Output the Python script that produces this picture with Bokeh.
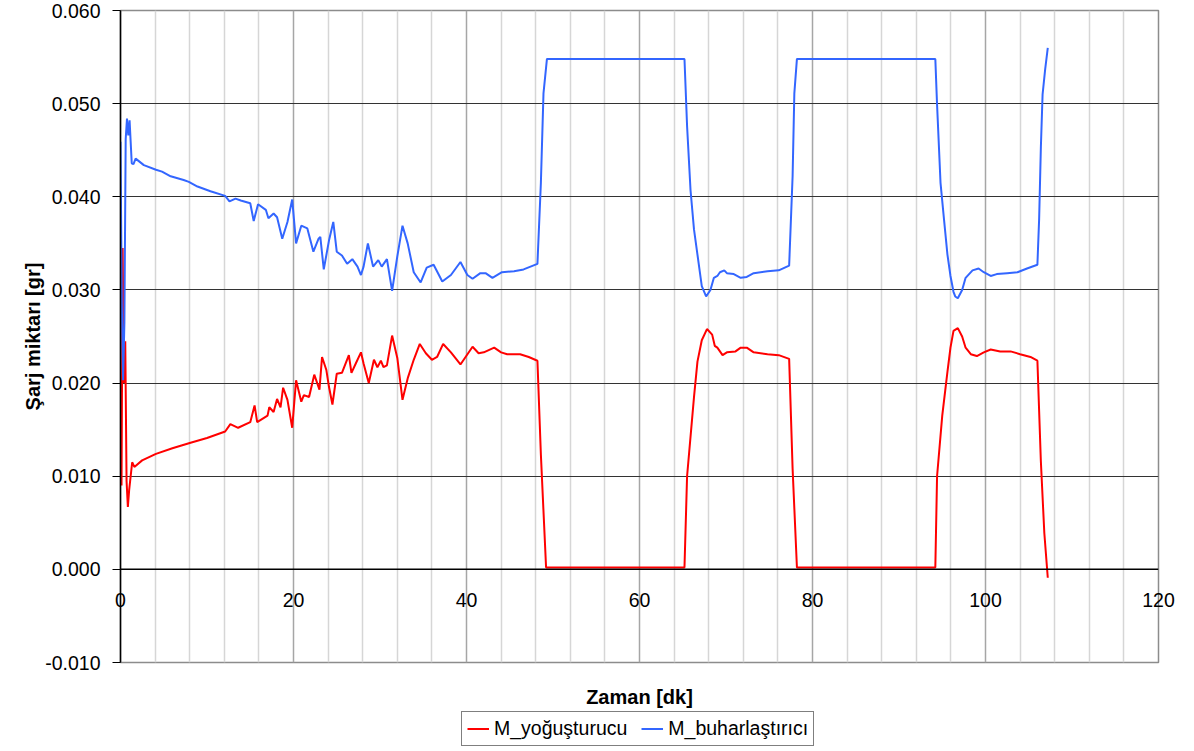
from bokeh.plotting import figure
from bokeh.layouts import column
from bokeh.models import (FixedTicker, NumeralTickFormatter, Span,
                          Legend, LegendItem, Range1d)
from bokeh.embed import file_html
from bokeh.resources import INLINE

FONT = "Liberation Sans"

# ---- data ----
x_title = "Zaman [dk]"
y_title = "Şarj miktarı [gr]"
series_names = ["M_yoğuşturucu", "M_buharlaştırıcı"]

t_buh = [0.0, 0.15, 0.3, 0.45, 0.6, 0.75, 0.9, 1.05, 1.3, 1.5, 1.75, 2.7, 4.1, 4.8,
         5.8, 7.3, 7.9, 8.9, 10.4, 12.1, 12.6, 13.3, 13.9, 15.0, 15.4, 15.9, 16.8,
         17.1, 17.7, 18.1, 18.7, 19.3, 19.85, 20.3, 20.9, 21.6, 22.3, 22.9, 23.1,
         23.5, 24.1, 24.6, 25.0, 25.6, 26.2, 26.8, 27.4, 27.8, 28.1, 28.6, 29.2,
         29.8, 30.2, 30.8, 31.4, 32.0, 32.6, 33.2, 33.9, 34.7, 35.4, 36.2, 37.2,
         38.2, 39.3, 40.1, 40.7, 41.6, 42.2, 43.0, 44.1, 45.5, 46.6, 48.2, 48.6,
         48.9, 49.3, 65.2, 65.5, 65.9, 66.3, 66.7, 67.2, 67.7, 68.2, 68.6, 69.0,
         69.3, 69.8, 70.1, 70.9, 71.7, 72.4, 73.2, 74.8, 76.1, 77.3, 77.7, 77.9,
         78.2, 94.2, 94.4, 94.8, 95.2, 95.6, 95.95, 96.3, 96.5, 96.8, 97.3, 97.7,
         98.1, 98.5, 99.2, 99.8, 100.6, 101.3, 102.5, 103.7, 104.8, 106.0, 106.2,
         106.4, 106.6, 106.9, 107.2]
m_buh = [0.0459, 0.0285, 0.0203, 0.0265, 0.0462, 0.0484, 0.0466, 0.0482, 0.0436,
         0.0435, 0.0441, 0.0434, 0.0429, 0.0427, 0.0422, 0.0418, 0.0416, 0.0411,
         0.0406, 0.0401, 0.0395, 0.0398, 0.0396, 0.0393, 0.0374, 0.0392, 0.0386,
         0.0377, 0.0382, 0.0378, 0.0355, 0.0373, 0.0397, 0.0350, 0.0369, 0.0366,
         0.0341, 0.0355, 0.0357, 0.0322, 0.0353, 0.0373, 0.0341, 0.0337, 0.0328,
         0.0333, 0.0325, 0.0316, 0.0325, 0.0350, 0.0325, 0.0332, 0.0325, 0.0333,
         0.0299, 0.0336, 0.0369, 0.0350, 0.0319, 0.0308, 0.0324, 0.0327, 0.0309,
         0.0316, 0.0330, 0.0316, 0.0312, 0.0318, 0.0318, 0.0313, 0.0319, 0.0320,
         0.0322, 0.0328, 0.0415, 0.0511, 0.0548, 0.0548, 0.0476, 0.0407, 0.0365,
         0.0338, 0.0304, 0.0293, 0.0300, 0.0313, 0.0315, 0.0319, 0.0321, 0.0318,
         0.0317, 0.0313, 0.0314, 0.0318, 0.0320, 0.0321, 0.0326, 0.0422, 0.0511,
         0.0548, 0.0548, 0.0499, 0.0415, 0.0376, 0.0338, 0.0315, 0.0298, 0.0293,
         0.0291, 0.0300, 0.0313, 0.0317, 0.0321, 0.0323, 0.0319, 0.0315, 0.0317,
         0.0318, 0.0319, 0.0323, 0.0327, 0.0376, 0.0453, 0.0510, 0.0537, 0.0560]

t_yog = [0.0, 0.12, 0.25, 0.4, 0.55, 0.7, 0.85, 1.0, 1.35, 1.6, 2.5, 4.1, 6.0, 8.1,
         10.0, 12.1, 12.7, 13.6, 15.0, 15.5, 15.8, 17.0, 17.2, 17.7, 18.1, 18.5,
         18.8, 19.3, 19.85, 20.3, 20.9, 21.2, 21.8, 22.4, 23.0, 23.3, 23.8, 24.1,
         24.5, 25.0, 25.6, 26.4, 26.7, 27.2, 27.8, 28.1, 28.7, 29.3, 29.7, 30.1,
         30.4, 30.8, 31.4, 32.0, 32.6, 33.2, 33.9, 34.6, 35.3, 36.0, 36.6, 37.3,
         38.2, 39.3, 40.7, 41.4, 42.0, 43.2, 44.0, 44.7, 46.2, 47.2, 48.2, 48.6,
         49.2, 65.2, 65.5, 66.3, 66.7, 67.2, 67.8, 68.4, 68.7, 69.0, 69.6, 70.1,
         71.1, 71.7, 72.4, 73.2, 74.8, 76.1, 77.3, 77.7, 78.2, 94.2, 94.4, 95.0,
         95.6, 95.95, 96.3, 96.8, 97.3, 97.7, 98.3, 99.0, 99.8, 100.6, 101.7,
         102.9, 104.0, 105.2, 106.0, 106.4, 106.8, 107.2]
m_yog = [0.0175, 0.0090, 0.0345, 0.0200, 0.0245, 0.0095, 0.0067, 0.0085, 0.0115,
         0.0110, 0.0117, 0.0124, 0.0130, 0.0136, 0.0141, 0.0148, 0.0156, 0.0152,
         0.0158, 0.0176, 0.0158, 0.0165, 0.0174, 0.0169, 0.0183, 0.0174, 0.0195,
         0.0182, 0.0152, 0.0203, 0.0180, 0.0187, 0.0185, 0.0209, 0.0193, 0.0228,
         0.0214, 0.0196, 0.0177, 0.0210, 0.0211, 0.0230, 0.0211, 0.0221, 0.0233,
         0.0221, 0.0200, 0.0225, 0.0217, 0.0224, 0.0217, 0.0219, 0.0251, 0.0227,
         0.0182, 0.0205, 0.0225, 0.0242, 0.0232, 0.0225, 0.0228, 0.0242, 0.0233,
         0.0220, 0.0239, 0.0232, 0.0233, 0.0238, 0.0233, 0.0231, 0.0231, 0.0228,
         0.0224, 0.0123, 0.0002, 0.0002, 0.0100, 0.0185, 0.0223, 0.0246, 0.0258,
         0.0252, 0.0240, 0.0238, 0.0230, 0.0233, 0.0234, 0.0238, 0.0238, 0.0233,
         0.0231, 0.0230, 0.0226, 0.0108, 0.0002, 0.0002, 0.0100, 0.0165, 0.0212,
         0.0238, 0.0256, 0.0259, 0.0250, 0.0238, 0.0231, 0.0229, 0.0233, 0.0236,
         0.0234, 0.0234, 0.0231, 0.0228, 0.0224, 0.0116, 0.0039, -0.0009]

x_ticks = [0, 20, 40, 60, 80, 100, 120]
x_minor = [4, 8, 12, 16, 24, 28, 32, 36, 44, 48, 52, 56, 64, 68, 72, 76,
           84, 88, 92, 96, 104, 108, 112, 116]
y_ticks = [-0.01, 0.0, 0.01, 0.02, 0.03, 0.04, 0.05, 0.06]

# ---- main figure ----
p = figure(width=1186, height=710,
           x_range=Range1d(0, 120), y_range=Range1d(-0.01, 0.06),
           output_backend="svg", toolbar_location=None,
           min_border_left=120, min_border_right=28,
           min_border_top=10, min_border_bottom=48,
           background_fill_color="white", border_fill_color="white")
p.outline_line_color = "#8c8c8c"
p.outline_line_width = 1.5

# bottom axis: carries tick labels (drawn up below the y=0 line) and the title
xa = p.xaxis[0]
xa.ticker = FixedTicker(ticks=x_ticks, minor_ticks=x_minor)
xa.axis_line_color = None
xa.major_tick_line_color = None
xa.minor_tick_line_color = None
xa.major_tick_out = 0
xa.major_tick_in = 0
xa.minor_tick_out = 0
xa.major_label_standoff = -70
xa.major_label_text_font = FONT
xa.major_label_text_font_size = "19.5px"
xa.major_label_text_color = "black"
xa.axis_label = x_title
xa.axis_label_standoff = 76
xa.axis_label_text_font = FONT
xa.axis_label_text_font_size = "20px"
xa.axis_label_text_font_style = "bold"
xa.axis_label_text_color = "black"

# y axis
ya = p.yaxis[0]
ya.ticker = FixedTicker(ticks=y_ticks)
ya.formatter = NumeralTickFormatter(format="0.000")
ya.axis_line_color = "black"
ya.axis_line_width = 1.5
ya.major_tick_line_color = "black"
ya.major_tick_out = 8
ya.major_tick_in = 0
ya.minor_tick_line_color = None
ya.major_label_standoff = 12
ya.major_label_text_font = FONT
ya.major_label_text_font_size = "19.5px"
ya.major_label_text_color = "black"
ya.axis_label = y_title
ya.axis_label_text_font = FONT
ya.axis_label_text_font_size = "20px"
ya.axis_label_text_font_style = "bold"
ya.axis_label_text_color = "black"
ya.axis_label_standoff = -2

# grids
p.xgrid.grid_line_color = "#a6a6a6"
p.xgrid.grid_line_width = 1.5
p.xgrid.minor_grid_line_color = "#d6d6d6"
p.xgrid.minor_grid_line_width = 1.5
p.ygrid.ticker = FixedTicker(ticks=[0.01, 0.02, 0.03, 0.04, 0.05])
p.ygrid.grid_line_color = "#333333"
p.ygrid.grid_line_width = 1.2

# the x axis line sits at y = 0
p.add_layout(Span(location=0, dimension="width", line_color="black",
                  line_width=1.5))

# lines
p.line(t_yog, m_yog, line_color="#ff0000", line_width=2)
p.line(t_buh, m_buh, line_color="#3366ff", line_width=2)

# ---- legend strip below the chart ----
# same series, drawn outside this strip's visible range: only the legend shows
q = figure(width=1186, height=40, x_range=Range1d(0, 1), y_range=Range1d(1, 2),
           output_backend="svg", toolbar_location=None,
           x_axis_type=None, y_axis_type=None, min_border=0,
           outline_line_color=None,
           background_fill_color="white", border_fill_color="white")
lg_yog = q.line(t_yog, m_yog, line_color="#ff0000", line_width=2)
lg_buh = q.line(t_buh, m_buh, line_color="#3366ff", line_width=2)
legend = Legend(items=[LegendItem(label=series_names[0], renderers=[lg_yog]),
                       LegendItem(label=series_names[1], renderers=[lg_buh])],
                orientation="horizontal", location=(341, 4),
                border_line_color="black", border_line_width=1.2,
                background_fill_color="white", background_fill_alpha=1,
                label_text_font=FONT, label_text_font_size="19.5px",
                label_text_color="black", label_height=19,
                glyph_width=22, glyph_height=19, label_standoff=5,
                spacing=14, padding=5, margin=0)
q.add_layout(legend, "center")

layout = column(p, q, spacing=0)
open("out.html", "w").write(file_html(layout, INLINE))
